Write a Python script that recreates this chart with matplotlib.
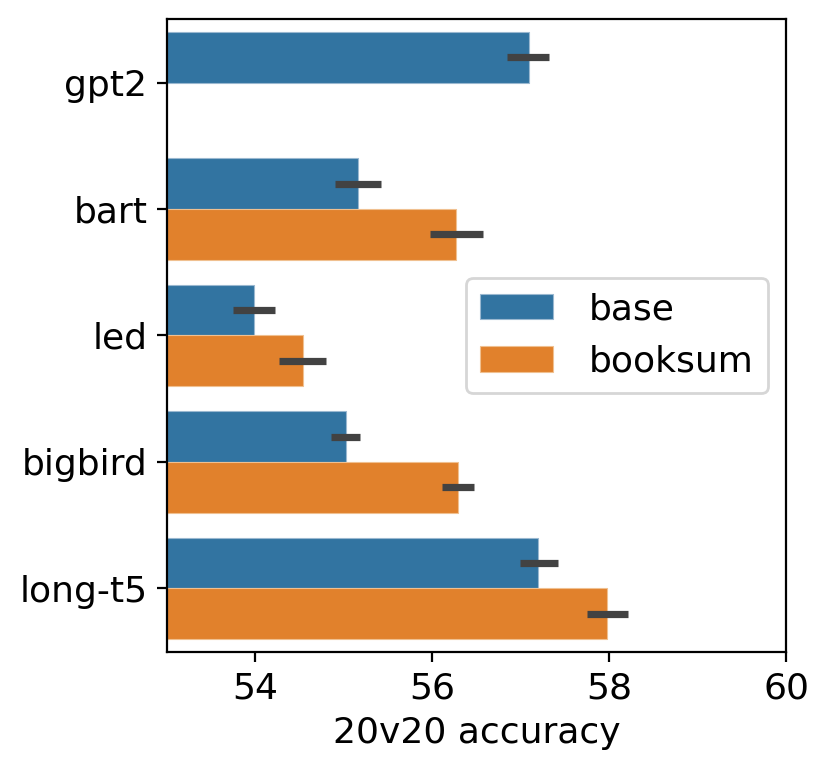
import numpy as np
import matplotlib
matplotlib.use("Agg")
import matplotlib.pyplot as plt

# values
models = ['gpt2', 'bart', 'led', 'bigbird', 'long-t5']
base_acc = [57.09, 55.16, 53.99, 55.02, 57.20]
base_lo = [56.85, 54.90, 53.75, 54.86, 56.99]
base_hi = [57.32, 55.42, 54.22, 55.18, 57.42]
booksum_acc = [np.nan, 56.27, 54.54, 56.29, 57.98]
booksum_lo = [np.nan, 55.98, 54.27, 56.11, 57.75]
booksum_hi = [np.nan, 56.57, 54.80, 56.47, 58.21]

blue = '#3274a1'
orange = '#e1812c'

plt.rcParams['font.family'] = ['DejaVu Sans']
plt.rcParams['font.size'] = 13

fig = plt.figure(figsize=(4.15, 3.865), dpi=200)
ax = fig.add_axes([0.201, 0.157, 0.746, 0.818])

y = np.arange(len(models))
h = 0.4
ax.barh(y - h / 2, np.array(base_acc) - 53, left=53, height=h, color=blue,
        edgecolor='#9ab8d0', linewidth=0.4, label='base')
ax.barh(y + h / 2, np.array(booksum_acc) - 53, left=53, height=h, color=orange,
        edgecolor='#f0c090', linewidth=0.4, label='booksum')

ax.hlines(y - h / 2, base_lo, base_hi, color='#424242', linewidth=2.6)
ax.hlines(y + h / 2, booksum_lo, booksum_hi, color='#424242', linewidth=2.6)

ax.set_xlim(53, 60)
ax.set_ylim(len(models) - 0.5, -0.5)
ax.set_xticks([54, 56, 58, 60])
ax.set_yticks(y)
ax.set_yticklabels(models)
ax.set_xlabel('20v20 accuracy')
ax.legend(loc='center right', handletextpad=1.0)

fig.savefig('out.png', dpi=200)
